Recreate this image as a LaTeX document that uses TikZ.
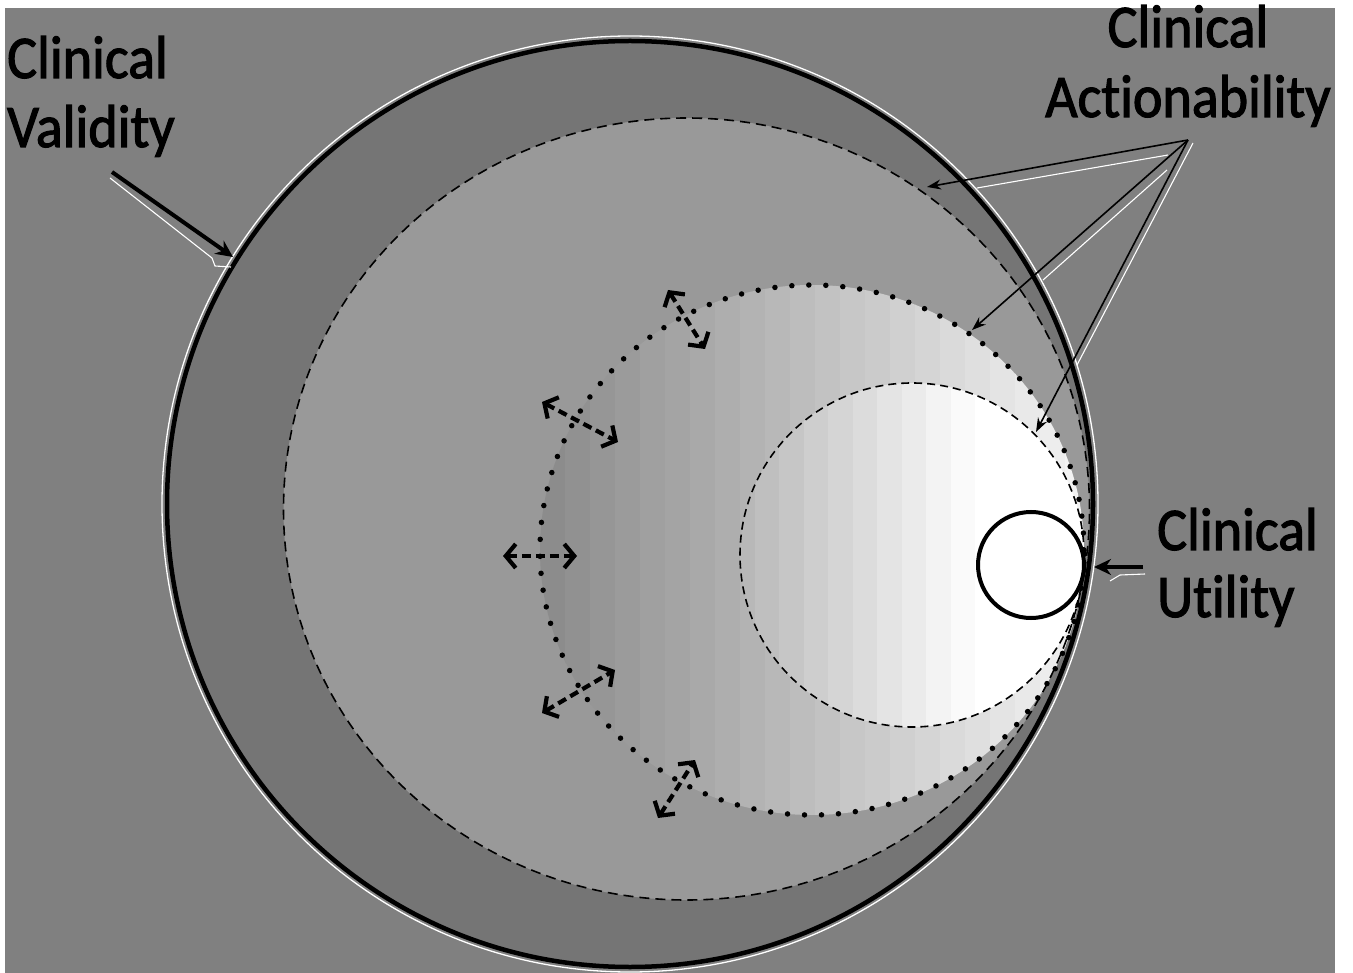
\documentclass[tikz,border=0pt]{standalone}
\usepackage{fontspec}
\setmainfont{Carlito}[Ligatures=NoCommon, FakeBold=2]
\usetikzlibrary{arrows.meta}
\newcommand\talltext[1]{\scalebox{1}[1.08]{#1}}
\begin{document}
\begin{tikzpicture}[x=1pt,y=-1pt,
  lbl/.style={inner sep=0pt, font=\fontsize{56}{60}\selectfont},
  ptr/.style={line width=1.6pt, -{Stealth[length=14pt,width=10pt]}},
  bigptr/.style={line width=4pt, -{Stealth[length=17pt,width=16pt]}},
  glow/.style={white, line width=1.1pt},
  dbl/.style={line width=4.2pt, dash pattern=on 9pt off 5pt,
     {Straight Barb[length=10pt,width=24pt]}-{Straight Barb[length=10pt,width=24pt]}},
  dashring/.style={line width=1.6pt, dash pattern=on 10pt off 6pt},
  smalldash/.style={line width=1.6pt, dash pattern=on 8pt off 5pt},
  dotring/.style={line width=5.5pt, line cap=round, dash pattern=on 0pt off 17pt}]
\useasboundingbox (0,0) rectangle (1353,973);
\fill[white] (0,0) rectangle (1353,973);
\fill[black!50] (5,8) rectangle (1335,973);

% outer circle (clinical validity)
\fill[black!54] (630,504) circle[radius=463pt];
% dashed circle fill
\fill[black!40] (686.5,509) ellipse[x radius=403pt, y radius=391pt];
% striped gradient inside dotted circle
\begin{scope}
  \clip (812,550) ellipse[x radius=272pt, y radius=265pt];
  \foreach \i in {0,...,21}{
    \pgfmathsetmacro{\g}{55+40*\i/21}
    \fill[white!\g!black] ({540+25*\i},270) rectangle ({540+25*(\i+1)+0.5},830);
  }
\end{scope}
% striped gradient inside small dashed circle
\begin{scope}
  \clip (912,555) circle[radius=172pt];
  \foreach \i in {0,...,9}{
    \pgfmathsetmacro{\g}{72+26*\i/9}
    \fill[white!\g!black] ({730+24.5*\i},370) rectangle ({730+24.5*(\i+1)+0.5},740);
  }
  \fill[white] (975,370) rectangle (1090,740);
\end{scope}

% outlines
\draw[dashring] (686.5,509) ellipse[x radius=403pt, y radius=391pt];
\draw[dotring] (812,550) ellipse[x radius=272pt, y radius=265pt];
\draw[smalldash] (912,555) circle[radius=172pt];
\draw[white, line width=1.3pt] (630,504) circle[radius=468pt];
\draw[line width=4.5pt] (630,504) circle[radius=463pt];
% clinical utility circle
\draw[line width=4pt, fill=white] (1031,565) circle[radius=53pt];

% double-headed dashed arrows
\coordinate (d1a) at (668,290); \coordinate (d1b) at (705,349);
\coordinate (d2a) at (542,402); \coordinate (d2b) at (618,442);
\coordinate (d3a) at (503,556); \coordinate (d3b) at (577,556);
\coordinate (d4a) at (542,713); \coordinate (d4b) at (615,670);
\coordinate (d5a) at (658,818); \coordinate (d5b) at (695,760);
\draw[dbl] (d1a) -- (d1b);
\draw[dbl] (d2a) -- (d2b);
\draw[dbl] (d3a) -- (d3b);
\draw[dbl] (d4a) -- (d4b);
\draw[dbl] (d5a) -- (d5b);

% labels
\node[lbl, anchor=base west] (cv1) at (7,78) {\talltext{Clinical}};
\node[lbl, anchor=base west] (cv2) at (7,147) {\talltext{Validity}};
\node[lbl, anchor=base] (ca1) at (1188,47) {\talltext{Clinical}};
\node[lbl, anchor=base] (ca2) at (1188,117) {\talltext{Actionability}};
\node[lbl, anchor=base west] (cu1) at (1157,550) {\talltext{Clinical}};
\node[lbl, anchor=base west] (cu2) at (1157,617) {\talltext{Utility}};

% clinical validity pointer
\coordinate (cvs) at (112,172);
\coordinate (cvt) at (233,257);
\draw[glow] (110,178) -- (212,258) -- (215,266) -- (231,267);
\draw[bigptr] (cvs) -- (cvt);

% clinical actionability pointers
\coordinate (ap) at (1188,140);
\coordinate (t1) at (927,187);
\coordinate (t2) at (972,330);
\coordinate (t3) at (1036,432);
\draw[glow] (1168,155) -- (977,188);
\draw[glow] (1167,170) -- (1043,280);
\draw[glow] (1193,143) -- (1077,365);
\draw[ptr] (ap) -- (t1);
\draw[ptr] (ap) -- (t2);
\draw[ptr] (ap) -- (t3);

% clinical utility pointer
\coordinate (cus) at (1143,567);
\coordinate (cut) at (1094,567);
\draw[glow] (1145,574) -- (1120,575) -- (1110,581);
\draw[bigptr] (cus) -- (cut);
\end{tikzpicture}
\end{document}
